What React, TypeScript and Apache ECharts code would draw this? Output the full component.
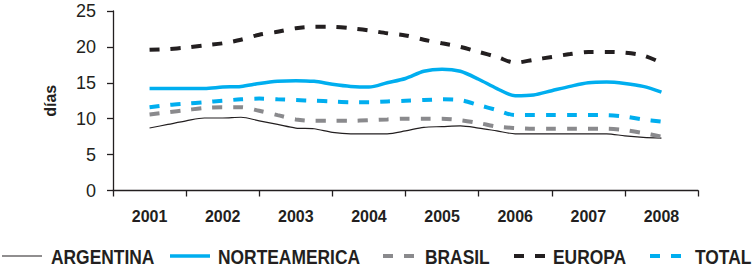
import React, { useEffect, useRef } from "react";
import * as echarts from "echarts";

const years = ["2001", "2002", "2003", "2004", "2005", "2006", "2007", "2008"];
const yTicks = [0, 5, 10, 15, 20, 25];

// quarterly readings, 2001 Q1 ... 2008 Q1 (29 points)
const argentina = [8.7, 9.2, 9.7, 10.1, 10.1, 10.2, 9.7, 9.2, 8.7, 8.6, 8.1, 7.9, 7.9, 7.9, 8.3, 8.8, 8.9, 9.0, 8.7, 8.3, 7.9, 7.9, 7.9, 7.9, 7.9, 7.9, 7.6, 7.4, 7.3];
const norteamerica = [14.2, 14.2, 14.2, 14.2, 14.4, 14.5, 14.9, 15.2, 15.3, 15.2, 14.8, 14.5, 14.4, 15.0, 15.6, 16.6, 16.9, 16.6, 15.5, 14.2, 13.2, 13.3, 13.9, 14.5, 15.0, 15.1, 14.9, 14.5, 13.7];
const brasil = [10.6, 10.9, 11.2, 11.5, 11.6, 11.6, 11.1, 10.5, 9.9, 9.7, 9.7, 9.7, 9.8, 9.9, 10.0, 10.0, 10.0, 9.8, 9.4, 8.9, 8.7, 8.6, 8.6, 8.6, 8.6, 8.6, 8.4, 8.0, 7.5];
const europa = [19.6, 19.7, 19.9, 20.2, 20.5, 21.0, 21.7, 22.1, 22.6, 22.8, 22.8, 22.6, 22.3, 21.9, 21.6, 21.0, 20.5, 20.0, 19.3, 18.6, 17.8, 18.2, 18.6, 19.0, 19.3, 19.3, 19.2, 18.8, 17.8];
const total = [11.6, 11.9, 12.1, 12.3, 12.5, 12.7, 12.8, 12.7, 12.6, 12.5, 12.4, 12.3, 12.3, 12.4, 12.5, 12.6, 12.7, 12.6, 11.9, 11.2, 10.5, 10.5, 10.5, 10.5, 10.5, 10.5, 10.3, 9.9, 9.6];

const BLUE = "#00AEEF";
const DARK = "#231F20";
const GRAY = "#8A8A8D";
const SANS = "'Liberation Sans', Arial, sans-serif";

const toPoints = (vals: number[]) => vals.map((v, i) => [Number(years[0]) + i / 4, v]);

export default function App() {
  const ref = useRef<HTMLDivElement>(null);
  useEffect(() => {
    if (!ref.current) return;
    const chart = echarts.init(ref.current, undefined, { renderer: "svg" });
    const dash = [10, 11];
    const seriesDefs = [
      { name: "ARGENTINA", data: argentina, color: DARK, width: 1.2, type: "solid" as any },
      { name: "NORTEAMERICA", data: norteamerica, color: BLUE, width: 3.5, type: "solid" as any },
      { name: "BRASIL", data: brasil, color: GRAY, width: 4, type: dash as any },
      { name: "EUROPA", data: europa, color: DARK, width: 4, type: dash as any },
      { name: "TOTAL", data: total, color: BLUE, width: 4, type: dash as any },
    ];
    const legendPos = [
      { x1: 2, x2: 42, tx: 51 },
      { x1: 170, x2: 210, tx: 218 },
      { x1: 383, x2: 417, tx: 425 },
      { x1: 514, x2: 547, tx: 553 },
      { x1: 650, x2: 682, tx: 695 },
    ];
    const legendY = 256;
    const graphic: any[] = [];
    seriesDefs.forEach((s, i) => {
      const p = legendPos[i];
      graphic.push({
        type: "line",
        shape: { x1: p.x1, y1: legendY, x2: p.x2, y2: legendY },
        style: {
          stroke: s.color,
          lineWidth: s.width,
          lineDash: Array.isArray(s.type) ? s.type : null,
        },
        silent: true,
      });
      graphic.push({
        type: "text",
        x: p.tx,
        y: legendY + 1,
        scaleX: 0.87,
        style: {
          text: s.name,
          fontFamily: SANS,
          fontWeight: "bold",
          fontSize: 20,
          fill: DARK,
          verticalAlign: "middle",
          align: "left",
        },
        silent: true,
      });
    });
    chart.setOption({
      animation: false,
      grid: { left: 113, right: 57, top: 11, bottom: 78.5, containLabel: false },
      graphic,
      xAxis: [
        {
          type: "category",
          data: years,
          boundaryGap: true,
          axisLine: { lineStyle: { color: DARK, width: 1.3 } },
          axisTick: { show: true, interval: 0, length: 6, lineStyle: { color: DARK, width: 1.3 } },
          axisLabel: {
            interval: 0,
            margin: 18,
            fontFamily: SANS,
            fontWeight: "bold",
            fontSize: 16,
            color: DARK,
          },
        },
        {
          type: "value",
          min: 2000.5,
          max: 2008.5,
          show: false,
        },
      ],
      yAxis: {
        type: "value",
        min: 0,
        max: 25,
        interval: 5,
        name: "días",
        nameLocation: "middle",
        nameGap: 55,
        nameTextStyle: { fontFamily: SANS, fontWeight: "bold", fontSize: 16, color: DARK },
        axisLine: { show: true, lineStyle: { color: DARK, width: 1.3 } },
        axisTick: { show: true, length: 6, lineStyle: { color: DARK, width: 1.3 } },
        axisLabel: {
          margin: 17,
          fontFamily: SANS,
          fontSize: 18,
          color: DARK,
          formatter: (v: number) => (yTicks.includes(v) ? String(v) : ""),
        },
        splitLine: { show: false },
      },
      series: seriesDefs.map((s) => ({
        name: s.name,
        type: "line",
        xAxisIndex: 1,
        data: toPoints(s.data),
        smooth: 0.3,
        symbol: "none",
        showSymbol: false,
        color: s.color,
        lineStyle: { color: s.color, width: s.width, type: s.type, cap: "butt" },
      })),
    });
    return () => chart.dispose();
  }, []);
  return (
    <div
      ref={ref}
      style={{ position: "fixed", left: 0, top: 0, width: 755, height: 269, background: "#fff" }}
    />
  );
}
